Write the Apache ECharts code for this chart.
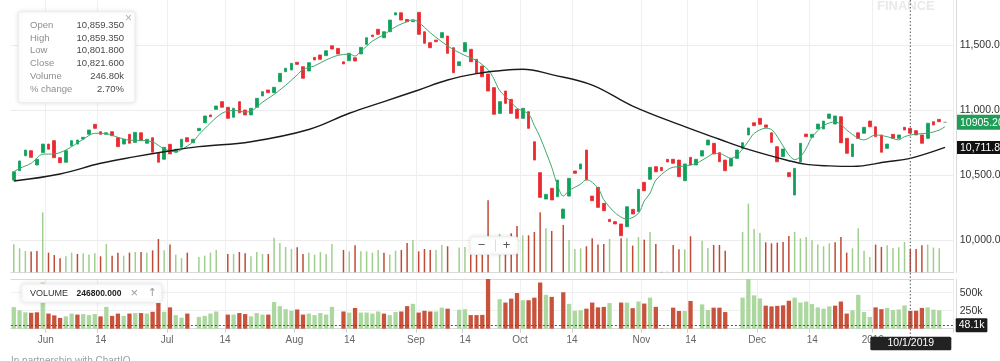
<!DOCTYPE html>
<html><head><meta charset="utf-8">
<script src="https://cdn.jsdelivr.net/npm/echarts@6/dist/echarts.min.js"></script>
<style>html,body{margin:0;padding:0;background:#fff;}#c{width:1000px;height:361px;}</style>
</head><body><div id="c"></div>
<script>
const categories = [
'2018-05-25','2018-05-28','2018-05-29','2018-05-30','2018-05-31',
'2018-06-01','2018-06-04','2018-06-05','2018-06-06','2018-06-07','2018-06-08','2018-06-11','2018-06-12','2018-06-13','2018-06-14','2018-06-15','2018-06-18','2018-06-19','2018-06-20','2018-06-21','2018-06-22','2018-06-25','2018-06-26','2018-06-27','2018-06-28','2018-06-29',
'2018-07-02','2018-07-03','2018-07-04','2018-07-05','2018-07-06','2018-07-09','2018-07-10','2018-07-11','2018-07-12','2018-07-13','2018-07-16','2018-07-17','2018-07-18','2018-07-19','2018-07-20','2018-07-23','2018-07-24','2018-07-25','2018-07-26','2018-07-27','2018-07-30','2018-07-31',
'2018-08-01','2018-08-02','2018-08-03','2018-08-06','2018-08-07','2018-08-08','2018-08-09','2018-08-10','2018-08-13','2018-08-14','2018-08-16','2018-08-17','2018-08-20','2018-08-21','2018-08-23','2018-08-24','2018-08-27','2018-08-28','2018-08-29','2018-08-30','2018-08-31',
'2018-09-03','2018-09-04','2018-09-05','2018-09-06','2018-09-07','2018-09-10','2018-09-11','2018-09-12','2018-09-14','2018-09-17','2018-09-18','2018-09-19','2018-09-21','2018-09-24','2018-09-25','2018-09-26','2018-09-27','2018-09-28',
'2018-10-01','2018-10-03','2018-10-04','2018-10-05','2018-10-08','2018-10-09','2018-10-10','2018-10-11','2018-10-12','2018-10-15','2018-10-16','2018-10-17','2018-10-19','2018-10-22','2018-10-23','2018-10-24','2018-10-25','2018-10-26','2018-10-29','2018-10-30','2018-10-31',
'2018-11-01','2018-11-02','2018-11-05','2018-11-06','2018-11-07','2018-11-09','2018-11-12','2018-11-13','2018-11-14','2018-11-15','2018-11-16','2018-11-19','2018-11-20','2018-11-21','2018-11-22','2018-11-26','2018-11-27','2018-11-28','2018-11-29','2018-11-30',
'2018-12-03','2018-12-04','2018-12-05','2018-12-06','2018-12-07','2018-12-10','2018-12-11','2018-12-12','2018-12-13','2018-12-14','2018-12-17','2018-12-18','2018-12-19','2018-12-20','2018-12-21','2018-12-24','2018-12-26','2018-12-27','2018-12-28','2018-12-31',
'2019-01-01','2019-01-02','2019-01-03','2019-01-04','2019-01-07','2019-01-08','2019-01-09','2019-01-10','2019-01-11','2019-01-14','2019-01-15','2019-01-16','2019-01-17','2019-01-18'
];
const openP = [
10461,10533,10648,10687,10577,10672,10738,10764,10633,10598,
10725,10738,10777,10813,10890,10833,10813,10833,10787,10738,
10813,10751,10825,10744,10787,10667,10621,10736,10675,10713,
10787,10748,10841,10902,10962,11005,11064,11021,10944,11064,
11000,10962,11021,11108,11154,11133,11218,11295,11308,11367,
11333,11300,11405,11423,11418,11494,11474,11371,11379,11402,
11431,11505,11577,11621,11556,11602,11731,11748,11697,11679,
11751,11602,11518,11538,11556,11569,11479,11341,11449,11467,
11390,11338,11277,11172,10974,11146,11082,11005,10936,10987,
10756,10518,10315,10398,10333,10167,10338,10531,10546,10692,
10338,10405,10282,10159,10141,10123,10102,10236,10218,10444,
10467,10564,10559,10621,10621,10615,10456,10636,10577,10646,
10731,10744,10672,10615,10569,10628,10705,10808,10902,10936,
10885,10825,10718,10641,10518,10346,10602,10815,10790,10854,
10854,10936,10892,10948,10782,10641,10825,10821,10915,10871,
10808,10705,10813,10782,10867,10859.35,10841,10808,10782,10910,
10928,10905.2];
const highP = [
10544,10621,10710,10710,10641,10764,10756,10769,10641,10698,
10815,10782,10846,10859,10898,10841,10833,10838,10795,10782,
10821,10833,10833,10787,10795,10679,10723,10744,10718,10782,
10795,10808,10871,10967,10975,11060,11077,11028,11021,11077,
11008,11025,11102,11154,11162,11185,11295,11333,11371,11385,
11340,11372,11431,11431,11466,11508,11480,11410,11446,11410,
11490,11564,11585,11631,11610,11700,11764,11756,11705,11731,
11756,11610,11525,11551,11602,11577,11487,11385,11525,11477,
11397,11346,11308,11179,11070,11154,11090,11025,11025,10995,
10769,10538,10372,10410,10487,10333,10500,10538,10595,10708,
10372,10415,10295,10218,10167,10131,10269,10295,10402,10454,
10569,10572,10590,10631,10628,10628,10595,10646,10631,10695,
10782,10751,10679,10625,10641,10700,10769,10870,10923,10948,
10898,10833,10725,10708,10538,10569,10751,10831,10833,10900,
10923,10985,10962,10956,10790,10746,10833,10875,10936,10879,
10815,10746,10821,10815,10871,10859.35,10851,10815,10905,10918,
10936,10906];
const lowP = [
10423,10525,10641,10623,10564,10662,10679,10625,10564,10590,
10718,10723,10775,10800,10851,10800,10769,10795,10710,10731,
10736,10718,10756,10736,10662,10564,10610,10615,10641,10705,
10748,10736,10831,10892,10941,11000,11013,10925,10936,10967,
10954,10948,11013,11100,11125,11125,11207,11269,11284,11333,
11236,11290,11377,11369,11410,11461,11423,11346,11371,11369,
11423,11497,11556,11575,11546,11595,11718,11685,11672,11641,
11575,11505,11398,11436,11549,11431,11280,11256,11441,11364,
11254,11223,10871,10948,10910,11044,10967,10871,10825,10846,
10551,10269,10205,10295,10321,10141,10323,10436,10538,10454,
10256,10241,10167,10115,10103,10026,10026,10167,10115,10372,
10459,10513,10500,10592,10582,10474,10449,10569,10569,10641,
10692,10656,10569,10500,10500,10620,10692,10800,10846,10862,
10846,10744,10595,10633,10477,10338,10595,10756,10756,10846,
10846,10928,10885,10741,10659,10564,10775,10813,10859,10787,
10667,10698,10775,10775,10769,10801.8,10769,10692,10775,10877,
10871,10904];
const closeP = [
10525,10608,10692,10636,10621,10738,10698,10633,10594,10687,
10764,10769,10790,10846,10859,10813,10825,10802,10718,10775,
10744,10828,10764,10775,10675,10598,10713,10662,10698,10775,
10756,10775,10859,10954,10948,11031,11021,10936,11013,10979,
10962,11013,11090,11141,11133,11175,11282,11321,11359,11351,
11244,11364,11385,11390,11456,11469,11431,11354,11436,11377,
11482,11556,11564,11582,11602,11692,11748,11692,11679,11687,
11582,11513,11479,11525,11595,11436,11287,11371,11518,11371,
11282,11256,11146,10967,11064,11051,10974,10936,11013,10859,
10615,10328,10351,10308,10461,10238,10474,10513,10585,10461,
10302,10251,10225,10141,10123,10033,10256,10200,10390,10379,
10559,10525,10533,10600,10590,10487,10585,10577,10621,10687,
10769,10662,10602,10533,10628,10692,10748,10862,10879,10890,
10867,10751,10602,10700,10487,10551,10744,10795,10813,10892,
10915,10969,10954,10748,10667,10738,10782,10867,10871,10795,
10675,10738,10782,10808,10846,10821.6,10808,10744,10898,10885,
10910,10905.2];
// volume in thousands (null = no bar)
const volK = [
299,256,228,221,228,641,210,185,150,171,
210,196,203,189,203,171,303,178,210,178,
210,217,217,210,235,356,235,296,189,153,
210,null,164,178,210,239,null,196,196,217,
203,171,217,196,196,370,313,271,249,267,
196,210,189,217,196,303,null,239,224,288,
224,224,210,239,210,189,231,239,313,345,
224,249,239,239,292,278,null,264,271,189,
189,192,769,null,410,363,417,495,395,395,
431,641,470,442,null,506,345,249,256,278,
363,296,303,356,null,363,363,285,377,349,
431,303,5,8,292,246,246,385,null,338,
260,292,292,231,null,null,431,734,463,420,
320,310,317,324,388,431,363,377,342,296,
278,310,320,377,210,256,470,231,164,296,
271,288,260,267,324,246.8,249,288,296,264,
256,null];
// 1 = up (green), 0 = down (red)
const volUp = [
1,1,1,0,0,1,0,0,0,1,
1,0,1,1,1,0,1,0,0,1,
0,1,0,1,0,0,1,0,1,1,
0,null,1,1,1,1,null,0,1,0,
0,1,1,1,0,1,1,1,1,0,
0,1,1,1,1,1,null,0,1,0,
1,1,1,1,0,1,1,0,0,1,
0,0,0,1,1,0,null,1,1,0,
0,0,0,null,1,0,0,0,1,0,
0,0,1,0,null,0,1,1,1,0,
0,0,0,1,null,0,1,0,1,0,
1,0,0,1,0,0,1,0,null,1,
1,0,0,0,null,null,1,1,1,1,
0,0,0,0,0,1,1,1,1,1,
1,1,0,0,0,1,1,1,1,0,
0,1,1,1,1,0,0,0,1,1,
1,null];
// short moving average, read as [index, value]
const maShort = [[0,10525],[1,10551],[3,10590],[5,10660],[7,10662],[9,10692],[12,10775],[14,10821],[16,10818],[18,10790],[20,10768],[22,10766],[24,10755],[26,10700],[28,10679],[29,10695],[31,10756],[32,10810],[34,10900],[36,10975],[38,10998],[40,10985],[41,10990],[43,11060],[45,11120],[47,11190],[49,11270],[50,11311],[52,11340],[54,11385],[56,11420],[58,11430],[59,11415],[60,11450],[62,11530],[64,11580],[66,11640],[68,11680],[69,11695],[70,11675],[72,11595],[74,11525],[76,11465],[78,11420],[80,11380],[82,11310],[83,11240],[84,11150],[86,11060],[87,11013],[89,10970],[90,10880],[91,10790],[93,10560],[94,10420],[95,10337],[96,10380],[98,10430],[99,10465],[101,10400],[102,10310],[104,10208],[106,10160],[108,10205],[109,10300],[110,10360],[111,10460],[113,10540],[114,10560],[116,10569],[118,10590],[120,10640],[121,10665],[122,10665],[124,10628],[125,10650],[126,10700],[127,10760],[128,10820],[130,10860],[131,10850],[132,10795],[134,10655],[135,10618],[136,10640],[137,10705],[138,10790],[140,10880],[142,10909],[143,10890],[144,10846],[146,10782],[147,10770],[149,10808],[151,10795],[153,10770],[154,10795],[156,10815],[158,10821],[160,10846],[161,10872]];
// long moving average, read as [index, value]
const maLong = [[0,10454],[8,10508],[15,10590],[21,10641],[26,10679],[32,10718],[41,10756],[51,10850],[58,10975],[64,11065],[70,11154],[75,11231],[80,11280],[84,11302],[88,11314],[93,11272],[100,11192],[107,11030],[116,10872],[122,10775],[127,10697],[134,10610],[137,10582],[141,10570],[145,10566],[151,10602],[155,10628],[161,10712]];

const tickDates = ['2018-06-01','2018-06-14','2018-07-02','2018-07-16','2018-08-01','2018-08-14','2018-09-03','2018-09-14','2018-10-01','2018-10-15','2018-11-01','2018-11-14','2018-12-03','2018-12-14','2019-01-01'];
const tickTexts = ['Jun','14','Jul','14','Aug','14','Sep','14','Oct','14','Nov','14','Dec','14','2019'];
const lastPrice = 10905.2, lastPriceText = '10905.200';
const maLongLast = 10711.86, maLongLastText = '10,711.86';
const volMarker = 48100, volMarkerText = '48.1k';
const cursorDate = '2019-01-10', cursorText = '10/1/2019';
const tipLabels = ['Open','High','Low','Close','Volume','% change'];
const tipValues = ['10,859.350','10,859.350','10,801.800','10,821.600','246.80k','2.70%'];
const volLegendName = 'VOLUME', volLegendValue = '246800.000';
const watermarkText = 'FINANCE', creditText = 'In partnership with ChartIQ';

// ---- build ----
const FONT = "'Liberation Sans', Arial, Helvetica, sans-serif";
const UP = '#10a05b', DN = '#ea2a2f';
const cats = categories.concat(['']);
const tickMap = new Map();
tickDates.forEach((d, k) => tickMap.set(categories.indexOf(d), tickTexts[k]));
const labelKind = (idx) => {
  const t = tickMap.get(idx);
  if (t === '14' && categories[idx].slice(8) === '14') return 'd';
  return 'm';
};
const splitInt = (idx) => tickMap.has(idx - 1);

const wickData = categories.map((d, i) => [lowP[i], highP[i], lowP[i], highP[i]]);
const bodyData = categories.map((d, i) => [openP[i], closeP[i], Math.min(openP[i], closeP[i]), Math.max(openP[i], closeP[i])]);
const volMain = volK.map((v, i) => v == null ? null : {value: v * 1000, itemStyle: {color: volUp[i] ? '#9fcf8f' : '#bf4b35'}});
const volBottom = volK.map((v, i) => v == null ? null : {value: v * 1000, itemStyle: {color: volUp[i] ? '#acd8a0' : '#c8533d'}});

const chart = echarts.init(document.getElementById('c'), null, {renderer: 'canvas'});
const GL = 10.9, GW = 942.8;
const option = {
  animation: false,
  backgroundColor: '#fff',
  textStyle: {fontFamily: FONT},
  grid: [
    {left: GL, width: GW, top: -20, height: 260, outerBoundsMode: 'none'},
    {left: GL, width: GW, top: 0, height: 272.3, outerBoundsMode: 'none'},
    {left: GL, width: GW, top: 279, height: 49.7, outerBoundsMode: 'none'}
  ],
  xAxis: [
    {type: 'category', gridIndex: 0, data: cats, boundaryGap: true, show: false},
    {type: 'category', gridIndex: 1, data: cats, boundaryGap: true,
      axisLine: {show: true, lineStyle: {color: '#dadada'}}, axisTick: {show: false}, axisLabel: {show: false},
      splitLine: {show: true, interval: splitInt, lineStyle: {color: '#efefef'}}},
    {type: 'category', gridIndex: 2, data: cats, boundaryGap: true,
      axisLine: {show: true, lineStyle: {color: '#dadada'}},
      axisTick: {show: true, interval: splitInt, length: 4, lineStyle: {color: '#cfcfcf'}},
      axisLabel: {show: true, interval: (idx) => tickMap.has(idx), margin: 7,
        formatter: (v, idx) => '{' + labelKind(idx) + '|' + tickMap.get(idx) + '}',
        rich: {
          m: {padding: [0, 0, 0, 6], color: '#666', fontSize: 10, fontFamily: FONT},
          d: {padding: [0, 0, 0, 12], color: '#666', fontSize: 10, fontFamily: FONT}
        }},
      splitLine: {show: true, interval: splitInt, lineStyle: {color: '#efefef'}}},
    {type: 'category', gridIndex: 2, data: cats, boundaryGap: true, position: 'top',
      axisLine: {show: true, lineStyle: {color: '#dadada'}}, axisTick: {show: false}, axisLabel: {show: false}, splitLine: {show: false}}
  ],
  yAxis: [
    {type: 'value', gridIndex: 0, position: 'right', min: 10000, max: 12000, interval: 500,
      axisLine: {show: false}, axisTick: {show: false},
      axisLabel: {color: '#333', fontSize: 10.5, margin: 6, showMaxLabel: false,
        formatter: (v) => v.toLocaleString('en-US', {minimumFractionDigits: 2, maximumFractionDigits: 2})},
      splitLine: {show: true, lineStyle: {color: '#ececec'}}},
    {type: 'value', gridIndex: 1, position: 'right', min: 0, max: 2909000, offset: 2.3,
      axisLine: {show: true, lineStyle: {color: '#dadada'}}, axisTick: {show: false}, axisLabel: {show: false}, splitLine: {show: false}},
    {type: 'value', gridIndex: 2, position: 'right', min: 0, max: 690000, interval: 250000, offset: 2.3,
      axisLine: {show: true, lineStyle: {color: '#dadada'}}, axisTick: {show: false},
      axisLabel: {color: '#333', fontSize: 10.5, margin: 3.7, showMaxLabel: false, showMinLabel: false,
        formatter: (v) => (v === 0 || v > 600000) ? '' : (v / 1000) + 'k'},
      splitLine: {show: true, lineStyle: {color: '#f0f0f0'}}}
  ],
  series: [
    {type: 'bar', name: 'vol-main', xAxisIndex: 1, yAxisIndex: 1, data: volMain, barWidth: 1.5, silent: true, z: 1},
    {type: 'bar', name: 'vol', xAxisIndex: 2, yAxisIndex: 2, data: volBottom, barWidth: 4.3, silent: true, z: 2,
      markLine: {silent: true, symbol: ['none', 'none'], animation: false,
        data: [{yAxis: volMarker}],
        lineStyle: {color: '#555', type: [2, 2], width: 1.2},
        label: {show: true, position: 'end', distance: 2, formatter: volMarkerText, color: '#fff', backgroundColor: '#1c1c1c',
          padding: [2, 3, 1, 3], fontSize: 10.5, fontFamily: FONT, borderRadius: 1}}},
    {type: 'candlestick', name: 'wick', xAxisIndex: 0, yAxisIndex: 0, data: wickData, barWidth: 1, silent: true, z: 3,
      itemStyle: {color: '#8c8c8c', color0: '#8c8c8c', borderColor: '#8c8c8c', borderColor0: '#8c8c8c', borderColorDoji: '#8c8c8c', borderWidth: 0}},
    {type: 'candlestick', name: 'price', xAxisIndex: 0, yAxisIndex: 0, data: bodyData, barWidth: 3.2, silent: true, z: 4,
      itemStyle: {color: UP, color0: DN, borderColor: UP, borderColor0: DN, borderColorDoji: '#9a9a9a', borderWidth: 0.8}},
    {type: 'line', name: 'ma-short', xAxisIndex: 0, yAxisIndex: 0, data: maShort, smooth: 0.3, symbol: 'none', silent: true, z: 5,
      lineStyle: {color: '#3ea86f', width: 1}},
    {type: 'line', name: 'ma-long', xAxisIndex: 0, yAxisIndex: 0, data: maLong, smooth: 0.4, symbol: 'none', silent: true, z: 5,
      lineStyle: {color: '#1b1b1b', width: 1.4}}
  ]
};
chart.setOption(option);

// overlays, placed through the axis scales
const axisRightX = GL + GW;
const cx = chart.convertToPixel({xAxisIndex: 2}, cursorDate);
const yLast = chart.convertToPixel({yAxisIndex: 0}, lastPrice);
const yMaLong = chart.convertToPixel({yAxisIndex: 0}, maLongLast);
const graphics = [];
graphics.push({type: 'text', x: 877, y: 6, z: 0, style: {text: watermarkText, fill: '#e9e9e9', font: 'bold 13px ' + FONT, verticalAlign: 'middle'}});
// right-edge price tags
graphics.push({type: 'rect', z: 70, shape: {x: axisRightX + 3.3, y: yLast - 7.5, width: 50, height: 15}, style: {fill: '#1f9e58'}});
graphics.push({type: 'text', z: 71, x: axisRightX + 6.3, y: yLast + 0.5, style: {text: lastPriceText, fill: '#fff', font: '10.5px ' + FONT, verticalAlign: 'middle'}});
graphics.push({type: 'rect', z: 70, shape: {x: axisRightX + 3.3, y: yMaLong - 6.5, width: 50, height: 13}, style: {fill: '#111'}});
graphics.push({type: 'text', z: 71, x: axisRightX + 6.3, y: yMaLong + 0.5, style: {text: maLongLastText, fill: '#fff', font: '10.5px ' + FONT, verticalAlign: 'middle'}});
// crosshair
graphics.push({type: 'line', z: 60, shape: {x1: cx, y1: 0, x2: cx, y2: 337}, style: {stroke: '#555', lineWidth: 1, lineDash: [1.5, 2]}});
graphics.push({type: 'rect', z: 61, shape: {x: cx - 40, y: 336.7, width: 81, height: 13.5, r: 1.5}, style: {fill: '#222'}});
graphics.push({type: 'text', z: 62, x: cx + 0.5, y: 343.6, style: {text: cursorText, fill: '#fff', font: '10.5px ' + FONT, align: 'center', verticalAlign: 'middle'}});
// info box
graphics.push({type: 'rect', z: 100, shape: {x: 18.3, y: 11.7, width: 116.7, height: 91, r: 2},
  style: {fill: '#fff', stroke: '#ececec', lineWidth: 1, shadowBlur: 5, shadowColor: 'rgba(0,0,0,0.10)'}});
tipLabels.forEach((t, k) => {
  const y = 25 + k * 12.9;
  graphics.push({type: 'text', z: 101, x: 30, y: y, style: {text: t, fill: '#8e8e8e', font: '9.5px ' + FONT, verticalAlign: 'middle'}});
  graphics.push({type: 'text', z: 101, x: 124, y: y, style: {text: tipValues[k], fill: '#4a4a4a', font: '9.5px ' + FONT, align: 'right', verticalAlign: 'middle'}});
});
graphics.push({type: 'text', z: 101, x: 128.5, y: 19, style: {text: '×', fill: '#b0b0b0', font: '12px ' + FONT, align: 'center', verticalAlign: 'middle'}});
// volume legend
graphics.push({type: 'rect', z: 100, shape: {x: 21.7, y: 284, width: 140, height: 18.3, r: 3},
  style: {fill: '#fff', stroke: '#f0f0f0', lineWidth: 1, shadowBlur: 5, shadowColor: 'rgba(0,0,0,0.12)'}});
graphics.push({type: 'text', z: 101, x: 30, y: 293.3, style: {text: volLegendName, fill: '#333', font: '9px ' + FONT, verticalAlign: 'middle'}});
graphics.push({type: 'text', z: 101, x: 76.5, y: 293.8, style: {text: volLegendValue, fill: '#222', font: 'bold 8.5px ' + FONT, verticalAlign: 'middle'}});
graphics.push({type: 'text', z: 101, x: 134.3, y: 293.3, style: {text: '×', fill: '#9a9a9a', font: '13px ' + FONT, align: 'center', verticalAlign: 'middle'}});
graphics.push({type: 'text', z: 101, x: 152.3, y: 293.3, style: {text: '↑', fill: '#9a9a9a', font: '11px DejaVu Sans', align: 'center', verticalAlign: 'middle'}});
// zoom control
graphics.push({type: 'rect', z: 100, shape: {x: 470, y: 236.7, width: 48, height: 17.5, r: 3},
  style: {fill: '#fff', stroke: '#eeeeee', lineWidth: 1, shadowBlur: 4, shadowColor: 'rgba(0,0,0,0.10)'}});
graphics.push({type: 'text', z: 101, x: 481.5, y: 245.3, style: {text: '−', fill: '#555', font: '13px ' + FONT, align: 'center', verticalAlign: 'middle'}});
graphics.push({type: 'line', z: 101, shape: {x1: 495.5, y1: 239.5, x2: 495.5, y2: 251.5}, style: {stroke: '#dddddd', lineWidth: 1}});
graphics.push({type: 'text', z: 101, x: 506.5, y: 245.3, style: {text: '+', fill: '#555', font: '13px ' + FONT, align: 'center', verticalAlign: 'middle'}});
// credit
graphics.push({type: 'text', z: 10, x: 11, y: 356, style: {text: creditText, fill: '#a0a0a0', font: '10px ' + FONT, verticalAlign: 'top'}});
chart.setOption({graphic: graphics});
</script></body></html>
